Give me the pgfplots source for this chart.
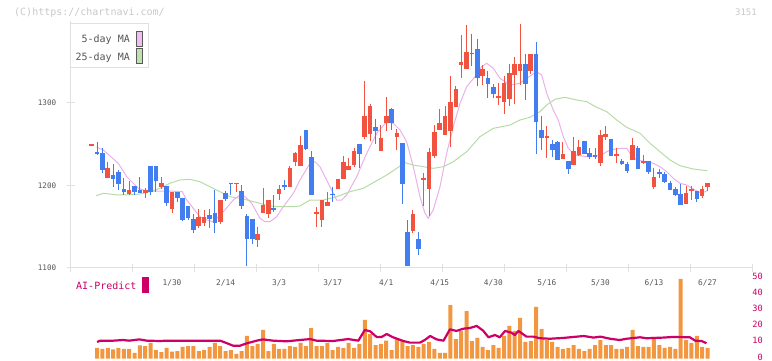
\documentclass[border=0pt]{standalone}
\usepackage{pgfplots}
\usepackage{pgfplotstable}
\pgfplotsset{compat=1.18}
\usepackage{fontspec}
\setmainfont{DejaVu Sans Mono}
\definecolor{cRed}{RGB}{242,82,64}
\definecolor{cBlue}{RGB}{66,126,240}
\definecolor{cOrange}{RGB}{242,150,64}
\definecolor{cCrimson}{RGB}{204,0,102}
\definecolor{cPink}{RGB}{234,176,234}
\definecolor{cGreen}{RGB}{182,220,166}
\definecolor{cAxis}{RGB}{224,224,224}
\definecolor{cText}{RGB}{85,85,85}
\definecolor{cWater}{RGB}{200,200,200}
\definecolor{cSwPink}{RGB}{240,190,240}
\definecolor{cSwGreen}{RGB}{190,225,175}

\pgfplotstableread{
i O H L C
0 1248 1250 1248 1250
3 1209 1228 1209 1221
7 1190 1205 1189 1195
10 1191 1197 1185 1194
13 1198 1210 1196 1203
15 1171 1192 1167 1192
20 1151 1171 1148 1162
21 1154 1170 1151 1162
24 1156 1182 1153 1182
27 1202 1203 1192 1203
31 1134 1150 1125 1141
32 1167 1197 1167 1176
33 1165 1182 1161 1182
35 1190 1201 1183 1196
37 1198 1224 1198 1221
38 1229 1241 1224 1239
39 1224 1260 1224 1249
42 1166 1174 1150 1168
43 1158 1182 1150 1182
44 1175 1192 1175 1180
46 1196 1208 1196 1208
47 1208 1236 1208 1228
48 1219 1233 1219 1224
49 1225 1245 1222 1242
51 1259 1327 1256 1284
52 1262 1299 1254 1296
54 1242 1273 1242 1258
55 1276 1307 1266 1284
57 1259 1268 1243 1264
60 1145 1170 1142 1165
62 1207 1215 1175 1209
63 1196 1245 1163 1241
64 1236 1273 1233 1265
65 1267 1293 1267 1276
66 1261 1296 1261 1284
67 1266 1333 1247 1301
68 1295 1320 1295 1317
69 1346 1382 1330 1350
70 1341 1394 1341 1362
73 1333 1346 1322 1341
76 1306 1324 1298 1308
77 1301 1333 1287 1324
78 1305 1347 1296 1336
79 1334 1356 1299 1347
80 1339 1396 1322 1347
82 1339 1359 1335 1359
85 1258 1272 1233 1260
88 1232 1253 1232 1238
90 1225 1259 1225 1242
91 1237 1255 1236 1247
95 1227 1267 1224 1261
96 1259 1272 1255 1262
98 1236 1246 1227 1237
101 1231 1258 1231 1249
103 1228 1237 1226 1229
105 1198 1221 1196 1210
111 1178 1199 1178 1191
112 1194 1199 1182 1195
114 1187 1199 1185 1196
115 1198 1203 1193 1203
}\redtab

\pgfplotstableread{
i O H L C
1 1240 1253 1237 1238
2 1239 1245 1215 1219
4 1213 1226 1198 1208
5 1216 1219 1195 1202
6 1196 1209 1189 1192
8 1199 1199 1189 1192
9 1195 1210 1191 1191
11 1224 1224 1188 1192
12 1224 1224 1192 1205
14 1199 1199 1175 1179
16 1192 1192 1180 1185
17 1185 1185 1157 1158
18 1175 1175 1158 1160
19 1159 1166 1142 1146
22 1164 1171 1148 1159
23 1167 1194 1143 1154
25 1191 1193 1181 1184
26 1203 1203 1188 1202
28 1193 1201 1171 1175
29 1163 1165 1103 1135
30 1159 1159 1129 1135
34 1173 1188 1168 1171
36 1200 1207 1194 1199
40 1267 1267 1243 1244
41 1234 1242 1189 1189
45 1190 1198 1180 1188
50 1250 1250 1221 1238
53 1271 1281 1250 1266
56 1293 1294 1267 1276
58 1251 1251 1178 1202
59 1144 1158 1102 1103
61 1135 1144 1116 1123
71 1361 1384 1345 1359
72 1366 1378 1321 1330
74 1330 1339 1306 1323
75 1319 1323 1306 1311
81 1347 1359 1304 1323
83 1359 1374 1238 1277
84 1267 1284 1243 1258
86 1250 1255 1235 1243
87 1253 1254 1231 1231
89 1230 1230 1214 1220
92 1254 1254 1238 1238
93 1239 1245 1232 1234
94 1236 1245 1232 1235
97 1256 1256 1236 1236
99 1230 1232 1225 1226
100 1226 1229 1215 1218
102 1246 1248 1220 1220
104 1230 1230 1214 1216
106 1216 1220 1209 1215
107 1214 1216 1203 1204
108 1203 1206 1195 1195
109 1196 1198 1187 1189
110 1190 1202 1176 1176
113 1193 1193 1180 1184
}\bluetab

\begin{document}
\begin{tikzpicture}
\path[use as bounding box] (0,0) rectangle (772bp,361bp);

% watermark texts
\node[anchor=west, inner sep=0pt, text=cWater, font=\fontsize{10bp}{12bp}\selectfont] at (14bp,348.3bp) {(C)https://chartnavi.com/};
\node[anchor=east, inner sep=0pt, text=cWater, font=\fontsize{9bp}{11bp}\selectfont] at (757bp,348.5bp) {3151};

\begin{axis}[
  at={(70.7bp,93bp)}, anchor=south west, scale only axis,
  width=682bp, height=247.5bp,
  xmin=-3.92, xmax=123.44, ymin=1100, ymax=1400,
  axis x line*=bottom, axis y line*=left,
  axis line style={draw=cAxis, line width=1bp},
  xtick={-3.92,7.66,19.24,30.82,42.40,53.97,65.55,77.13,88.71,100.29,111.86,123.44},
  xticklabels={},
  ytick={1100,1200,1300}, yticklabels={1100,1200,1300},
  tick style={draw=cAxis, line width=1bp},
  major tick length=8bp, tick align=center,
  yticklabel style={text=cText, font=\fontsize{7.6bp}{9bp}\selectfont},
  yticklabel shift=7bp,
  xticklabel shift=8bp,
  extra x ticks={15,25,35,45,55,65,75,85,95,105,115},
  extra x tick labels={1/30,2/14,3/3,3/17,4/1,4/15,4/30,5/16,5/30,6/13,6/27},
  extra x tick style={major tick length=0pt, tick style={draw=none},
    xticklabel style={text=cText, font=\fontsize{7.8bp}{9bp}\selectfont}},
]
% moving averages
\addplot[cPink, line width=1bp, mark=none] coordinates {
(0.93,1246.3)(2.17,1243)(3.42,1235.8)(4.97,1226.9)(6.54,1210.7)(7.47,1204.6)(8.7,1196.6)(10.27,1193.3)(12.44,1193.3)(14.62,1193.3)(16.92,1192.5)(17.74,1182.4)(18.97,1172.4)(20.22,1162.2)(21.47,1158.2)(22.71,1156.1)(24.58,1168.2)(26.44,1182.4)(27.69,1188.5)(28.63,1186.4)(29.88,1178.4)(31.43,1160.2)(32.36,1156.1)(33.3,1156.1)(34.55,1162.2)(35.78,1174.3)(37.65,1190.5)(38.9,1206.7)(40.77,1226.9)(41.7,1228.8)(42.63,1222.8)(44.5,1198.5)(45.75,1182.4)(46.69,1182.4)(47.62,1188.5)(49.49,1210.7)(51.35,1239)(53.22,1263.3)(55.09,1277.3)(56.32,1275.4)(57.57,1267.3)(58.82,1253.1)(60.06,1222.8)(61.31,1186.4)(62.24,1166.3)(62.86,1160.2)(63.79,1170.3)(65.04,1198.5)(66.29,1239)(67.53,1271.3)(68.78,1299.6)(70.03,1319.8)(71.58,1331.9)(72.83,1344)(73.76,1348.1)(75,1342.1)(76.25,1329.9)(78.11,1321.8)(79.98,1323.9)(81.23,1329.9)(83.1,1337.9)(84.03,1333.9)(84.97,1311.8)(86.2,1291.5)(87.13,1279.4)(88.07,1259.2)(89,1245.1)(90.25,1237)(92.44,1234.9)(94.92,1236.5)(96.79,1243)(98.66,1245.1)(99.91,1245.1)(100.52,1239)(101.77,1230.9)(103.64,1228.8)(104.87,1226.9)(106.12,1222.8)(107.38,1216.7)(108.61,1208.7)(109.86,1202.7)(111.11,1200.6)(112.66,1194.5)(113.91,1190.5)(115,1194)
};
\addplot[cGreen, line width=1bp, mark=none] coordinates {
(0.8,1187.6)(2.17,1190.5)(3.42,1189.7)(4.67,1188.5)(6.54,1188.5)(9.02,1189.7)(10.89,1192.5)(12.75,1196.6)(14.62,1202.7)(16.49,1206.7)(18.36,1207.5)(20.22,1204.6)(22.09,1198.5)(23.96,1192.5)(25.83,1186.4)(27.69,1184.5)(29.56,1181.6)(31.43,1178.4)(33.3,1175.2)(35.16,1174.3)(37.65,1174.3)(38.9,1175.2)(40.77,1182.4)(43.25,1182.4)(45.75,1186.4)(48.24,1192.5)(50.72,1196.6)(53.22,1205.8)(55.09,1212.7)(56.96,1220.8)(58.51,1227.6)(60.06,1224.8)(61.92,1222.8)(63.79,1220.8)(65.66,1222.8)(67.53,1228.8)(70.03,1241)(72.51,1259.2)(75,1269.3)(78.11,1273.3)(79.98,1279.4)(81.85,1282.7)(83.72,1289.5)(84.97,1297.6)(86.52,1304.5)(88.38,1306.9)(90.57,1303.6)(92.44,1301.6)(94.3,1294.8)(96.17,1289.5)(98.04,1279.4)(99.91,1270.5)(102.39,1263.3)(104.26,1251.2)(106.12,1241)(107.99,1230.9)(109.86,1224)(112.34,1220)(114.96,1217.9)
};
% wicks
\addplot[draw=none, mark=none, forget plot,
  error bars/.cd, y dir=minus, y explicit, error mark=none,
  error bar style={line width=1bp, draw=cRed}]
  table[x=i, y=H, y error minus expr={\thisrow{H}-\thisrow{L}}] {\redtab};
\addplot[draw=none, mark=none, forget plot,
  error bars/.cd, y dir=minus, y explicit, error mark=none,
  error bar style={line width=1bp, draw=cBlue}]
  table[x=i, y=H, y error minus expr={\thisrow{H}-\thisrow{L}}] {\bluetab};
% bodies
\addplot[draw=none, mark=none, forget plot,
  error bars/.cd, y dir=minus, y explicit, error mark=none,
  error bar style={line width=4.6bp, draw=cRed}]
  table[x=i, y expr={0.5*(\thisrow{C}+\thisrow{O})+0.5*max(abs(\thisrow{C}-\thisrow{O}),2.2)},
        y error minus expr={max(abs(\thisrow{C}-\thisrow{O}),2.2)}] {\redtab};
\addplot[draw=none, mark=none, forget plot,
  error bars/.cd, y dir=minus, y explicit, error mark=none,
  error bar style={line width=4.6bp, draw=cBlue}]
  table[x=i, y expr={0.5*(\thisrow{C}+\thisrow{O})+0.5*max(abs(\thisrow{C}-\thisrow{O}),2.2)},
        y error minus expr={max(abs(\thisrow{C}-\thisrow{O}),2.2)}] {\bluetab};
\end{axis}

% legend box
\draw[cAxis, line width=1bp, fill=white] (70.7bp,337bp) rectangle (148.3bp,293bp);
\node[anchor=east, inner sep=0pt, text=cText, font=\fontsize{10bp}{12bp}\selectfont] at (130bp,321.5bp) {5-day MA};
\node[anchor=east, inner sep=0pt, text=cText, font=\fontsize{10bp}{12bp}\selectfont] at (130bp,303.7bp) {25-day MA};
\draw[fill=cSwPink, draw=black!65, line width=0.9bp] (136.5bp,330bp) rectangle (142.3bp,314.6bp);
\draw[fill=cSwGreen, draw=black!65, line width=0.9bp] (136.5bp,312.5bp) rectangle (142.3bp,297.9bp);

% AI-Predict legend
\node[anchor=west, inner sep=0pt, text=cCrimson, font=\fontsize{10bp}{12bp}\selectfont] at (76bp,75bp) {AI-Predict};
\fill[cCrimson] (142.3bp,83.7bp) rectangle (148.7bp,68.3bp);

\begin{axis}[
  at={(70.7bp,2.5bp)}, anchor=south west, scale only axis,
  width=682bp, height=81bp,
  xmin=-3.92, xmax=123.44, ymin=0, ymax=50,
  axis x line=none, axis y line*=right,
  y axis line style={draw=none},
  xtick=\empty,
  ytick={0,10,20,30,40,50}, yticklabels={0,10,20,30,40,50},
  major tick length=0pt, ytick style={draw=none},
  yticklabel style={text=cCrimson, anchor=east, xshift=13.5bp, yshift=1.6bp, font=\fontsize{8.6bp}{10bp}\selectfont},
  clip=false,
]
\addplot[ybar, bar width=4bp, bar shift=0pt, fill=cOrange, draw=none] coordinates {
(1,6.5)(2,5.9)(3,6.5)(4,5.7)(5,6.5)(6,5.9)(7,5.9)(8,3.4)(9,8.1)(10,7.7)(11,9.6)(12,5.2)(13,4.0)(14,6.5)(15,4.2)(16,4.6)(17,7.1)(18,7.7)(19,7.7)(20,4.6)(21,5.2)(22,7.1)(23,9.6)(24,7.7)(25,4.6)(26,5.2)(27,2.8)(28,4.6)(29,13.9)(30,7.7)(31,9.0)(32,17.6)(33,4.6)(34,9.0)(35,5.9)(36,5.9)(37,7.7)(38,7.1)(39,9.6)(40,7.7)(41,18.8)(42,7.7)(43,7.7)(44,9.6)(45,5.2)(46,7.1)(47,6.5)(48,9.6)(49,6.5)(50,9.0)(51,23.8)(52,15.1)(53,8.3)(54,9.0)(55,11.0)(56,5.2)(57,12.0)(58,11.4)(59,7.7)(60,8.3)(61,7.1)(62,9.0)(63,10.2)(64,5.9)(65,3.4)(66,3.4)(67,33.0)(68,12.0)(69,17.0)(70,29.3)(71,10.8)(72,12.7)(73,7.1)(74,5.2)(75,8.3)(76,6.5)(77,13.9)(78,20.1)(79,17.0)(80,25.0)(81,10.2)(82,10.8)(83,31.8)(84,18.2)(85,11.4)(86,10.2)(87,7.1)(88,5.9)(89,6.5)(90,8.3)(91,5.9)(92,4.6)(93,5.9)(94,8.3)(95,11.4)(96,8.3)(97,8.3)(98,5.9)(99,5.9)(100,7.1)(101,17.6)(102,7.7)(103,7.1)(104,7.1)(105,13.3)(106,8.3)(107,6.5)(108,7.1)(109,5.9)(110,49.1)(111,11.4)(112,9.6)(113,13.9)(114,7.1)(115,6.5)
};
\addplot[cCrimson, line width=2.2bp, mark=none, line join=round] coordinates {
(1,10.2)(1.6,11.0)(4,11.0)(5.9,11.4)(7,11.0)(8.9,11.8)(10.3,11.0)(12.8,10.8)(14,11.0)(17.7,11.0)(24,11.0)(25.2,9.5)(26.4,7.9)(27.7,7.9)(28.9,9.3)(30.8,11.0)(32,11.8)(33.9,11.0)(36.4,10.6)(37.6,11.0)(40.8,12.0)(42,11.0)(45.1,10.8)(47.9,12.0)(49.8,11.0)(51,17.6)(52,16.8)(53.2,13.3)(54.1,13.2)(55.1,15.1)(56.2,13.2)(58.2,10.8)(59.4,9.8)(61.3,9.8)(62.2,11.4)(63.2,13.9)(64.4,11.8)(65.7,11.0)(66.9,18.0)(68.1,17.0)(69.4,18.4)(70.6,18.8)(71.9,20.1)(73.1,17.2)(74.1,13.1)(75.3,14.5)(76.2,13.1)(77.2,17.0)(78.4,15.9)(79,14.5)(79.7,17.0)(81.2,13.5)(82.5,13.5)(83.7,12.5)(85.6,12.2)(88.1,12.7)(91.9,13.9)(93.7,12.9)(95,13.5)(96.8,12.2)(98.6,11.4)(99.9,12.2)(102.4,13.1)(103.6,12.5)(106.7,12.9)(108.6,13.3)(111.7,13.1)(112.7,11.0)(113.9,10.8)(114.8,9.4)
};
\end{axis}
\end{tikzpicture}
\end{document}
